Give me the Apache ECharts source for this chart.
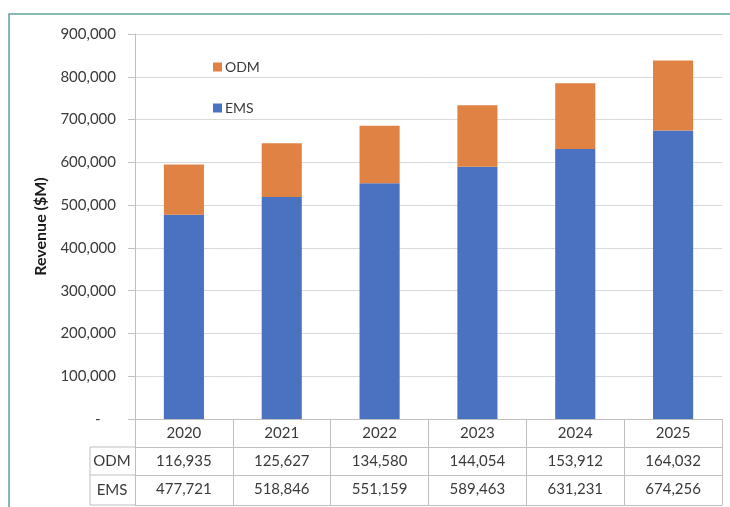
<!DOCTYPE html>
<html>
<head>
<meta charset="utf-8">
<script src="https://cdn.jsdelivr.net/npm/echarts@6/dist/echarts.min.js"></script>
<style>
  html, body { margin: 0; padding: 0; background: #fff; }
  #chart { width: 730px; height: 507px; }
</style>
</head>
<body>
<div id="chart"></div>
<script>
const years = ['2020', '2021', '2022', '2023', '2024', '2025']
const odm = [116935, 125627, 134580, 144054, 153912, 164032]
const ems = [477721, 518846, 551159, 589463, 631231, 674256]

const fmt = v => v.toLocaleString('en-US')
const font = 'Lato, "Open Sans", sans-serif'
const textColor = '#3a3a3a'
const lineColor = '#bfbfbf'

const chart = echarts.init(document.getElementById('chart'))

// table rows under the plot are extra x axes pushed down with offset
function tableAxis(offset, labels, tickLen) {
  return {
    type: 'category',
    position: 'bottom',
    offset: offset,
    data: years,
    axisLine: { show: true, lineStyle: { color: lineColor, width: 1 } },
    axisTick: { show: tickLen > 0, length: tickLen, interval: 0, lineStyle: { color: lineColor } },
    axisLabel: {
      show: !!labels,
      interval: 0,
      margin: 7,
      fontFamily: font,
      fontSize: 15,
      color: textColor,
      formatter: (v, i) => labels ? labels[i] : ''
    }
  }
}

chart.setOption({
  animation: false,
  textStyle: { fontFamily: font },
  grid: { left: 135, right: 8, top: 34, bottom: 88 },
  legend: {
    orient: 'vertical',
    left: 208,
    top: 55,
    itemGap: 27,
    itemWidth: 9,
    itemHeight: 9,
    icon: 'rect',
    data: ['ODM', 'EMS'],
    textStyle: { fontFamily: font, fontSize: 14, color: textColor, padding: [0, 0, 0, -2] }
  },
  xAxis: [
    tableAxis(0, years, 28),
    tableAxis(28, odm.map(fmt), 28),
    tableAxis(56, ems.map(fmt), 30),
    tableAxis(86, null, 0)
  ],
  yAxis: {
    type: 'value',
    min: 0,
    max: 900000,
    interval: 100000,
    name: 'Revenue ($M)',
    nameLocation: 'middle',
    nameGap: 86,
    nameTextStyle: { fontFamily: font, fontSize: 16, fontWeight: 'bold', color: '#1a1a1a' },
    axisLine: { show: true, lineStyle: { color: lineColor } },
    axisTick: { show: true, length: 7, lineStyle: { color: lineColor } },
    splitLine: { lineStyle: { color: '#d9d9d9' } },
    axisLabel: {
      margin: 19,
      fontFamily: font,
      fontSize: 15,
      color: textColor,
      formatter: v => v === 0 ? '-    ' : fmt(v)
    }
  },
  series: [
    {
      name: 'EMS',
      type: 'bar',
      stack: 'rev',
      barWidth: '41%',
      data: ems,
      itemStyle: { color: '#4a72c0' }
    },
    {
      name: 'ODM',
      type: 'bar',
      stack: 'rev',
      data: odm,
      itemStyle: { color: '#e08244' }
    }
  ],
  graphic: [
    // teal frame
    { type: 'rect', shape: { x: 9, y: 14, width: 800, height: 600 },
      style: { fill: 'none', stroke: '#62a09c', lineWidth: 1.5 }, silent: true },
    // row label column of the data table
    { type: 'polyline', shape: { points: [[135, 447], [90, 447], [90, 505], [135, 505]] },
      style: { fill: 'none', stroke: lineColor, lineWidth: 1 }, silent: true },
    { type: 'line', shape: { x1: 90, y1: 475, x2: 135, y2: 475 },
      style: { stroke: lineColor, lineWidth: 1 }, silent: true },
    { type: 'text', x: 112, y: 461,
      style: { text: 'ODM', fontFamily: font, fontSize: 15, fill: textColor, align: 'center', verticalAlign: 'middle' } },
    { type: 'text', x: 112, y: 490,
      style: { text: 'EMS', fontFamily: font, fontSize: 15, fill: textColor, align: 'center', verticalAlign: 'middle' } }
  ]
})
</script>
</body>
</html>
